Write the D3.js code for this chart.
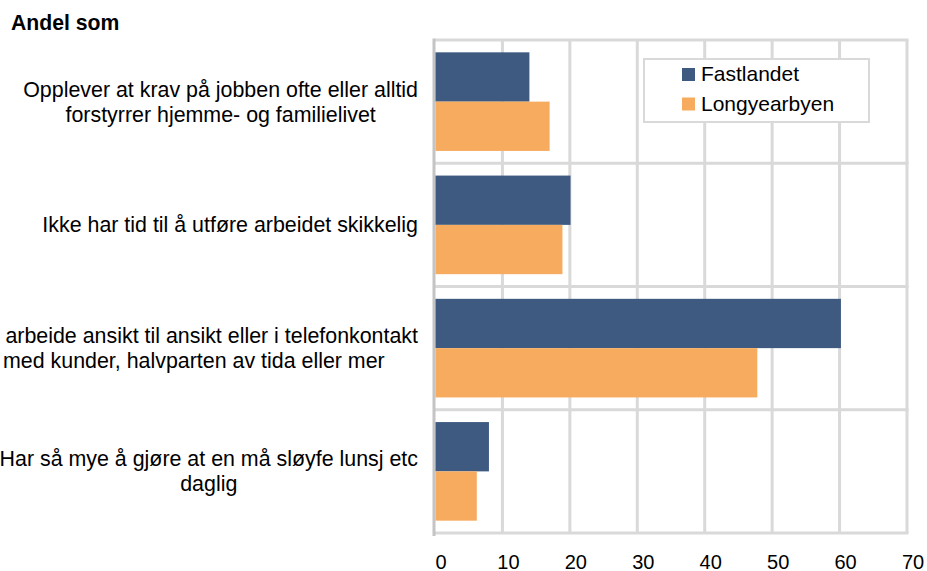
<!DOCTYPE html>
<html>
<head>
<meta charset="utf-8">
<script src="https://cdn.jsdelivr.net/npm/d3@7"></script>
<style>
  body { margin: 0; background: #fff; }
  svg { display: block; font-family: "Liberation Sans", Arial, sans-serif; }
</style>
</head>
<body>
<script>
// categories (label lines as they wrap in the chart)
const categories = [
  ["Opplever at krav på jobben ofte eller alltid", "forstyrrer hjemme- og familielivet"],
  ["Ikke har tid til å utføre arbeidet skikkelig"],
  ["Må arbeide ansikt til ansikt eller i telefonkontakt", "med kunder, halvparten av tida eller mer"],
  ["Har så mye å gjøre at en må sløyfe lunsj etc", "daglig"]
];
const series = ["Fastlandet", "Longyearbyen"];
const fastlandet = [14, 20.1, 60.2, 8];
const longyearbyen = [17, 18.9, 47.8, 6.2];
const xTicks = [0, 10, 20, 30, 40, 50, 60, 70];
const colors = ["#3e5a81", "#f7ab5e"];

const W = 927, H = 571;
const plot = { left: 435, right: 907, top: 40, bottom: 533 };

const svg = d3.select("body").append("svg")
    .attr("width", W)
    .attr("height", H);

const x = d3.scaleLinear()
    .domain([0, 70])
    .range([plot.left, plot.right]);

const y = d3.scaleBand()
    .domain(d3.range(categories.length))
    .range([plot.top, plot.bottom])
    .paddingInner(0.2)
    .paddingOuter(0.1);

const ySub = d3.scaleBand()
    .domain(series)
    .range([0, y.bandwidth()]);

// vertical gridlines
svg.append("g")
    .selectAll("line")
    .data(xTicks.slice(1))
    .join("line")
    .attr("x1", d => x(d)).attr("x2", d => x(d))
    .attr("y1", plot.top).attr("y2", plot.bottom)
    .attr("stroke", "#d9d9d9")
    .attr("stroke-width", 3);

// horizontal lines between categories
const bounds = d3.range(categories.length + 1)
    .map(i => i < categories.length ? y(i) - y.step() * y.paddingInner() / 2 : plot.bottom);
svg.append("g")
    .selectAll("line")
    .data(bounds)
    .join("line")
    .attr("x1", plot.left).attr("x2", plot.right + 1.5)
    .attr("y1", d => d).attr("y2", d => d)
    .attr("stroke", "#d9d9d9")
    .attr("stroke-width", 3);

// category axis line
svg.append("line")
    .attr("x1", plot.left - 1).attr("x2", plot.left - 1)
    .attr("y1", plot.top - 1.5).attr("y2", plot.bottom + 3)
    .attr("stroke", "#c4c4c4")
    .attr("stroke-width", 3);

// bars
const rows = categories.map((c, i) => ({ i, vals: [fastlandet[i], longyearbyen[i]] }));
svg.append("g")
    .selectAll("g")
    .data(rows)
    .join("g")
    .attr("transform", d => `translate(0,${y(d.i)})`)
    .selectAll("rect")
    .data(d => d.vals.map((v, k) => ({ v, k })))
    .join("rect")
    .attr("x", x(0) + 0.5)
    .attr("y", d => ySub(series[d.k]))
    .attr("width", d => x(d.v) - x(0) - 0.5)
    .attr("height", ySub.bandwidth())
    .attr("fill", d => colors[d.k]);

// x tick labels
svg.append("g")
    .selectAll("text")
    .data(xTicks)
    .join("text")
    .attr("x", d => x(d) + 6)
    .attr("y", 569)
    .attr("text-anchor", "middle")
    .attr("font-size", 20)
    .attr("fill", "#000")
    .text(d => d);

// category labels, wrapped lines centred in a box right-aligned to the axis
const labelRight = 418, lineH = 25, fs = 21.4;
categories.forEach((lines, i) => {
  const cy = y(i) + y.bandwidth() / 2;
  const g = svg.append("text")
      .attr("font-size", fs)
      .attr("text-anchor", "middle")
      .attr("fill", "#000");
  const spans = lines.map((l, j) => g.append("tspan")
      .attr("y", cy + 7.5 + (j - (lines.length - 1) / 2) * lineH)
      .text(l));
  const maxW = d3.max(spans, s => s.node().getComputedTextLength());
  spans.forEach(s => s.attr("x", labelRight - maxW / 2));
});

// title
svg.append("text")
    .attr("x", 11)
    .attr("y", 30)
    .attr("font-size", 21.2)
    .attr("font-weight", "bold")
    .text("Andel som");

// legend
const legend = svg.append("g");
legend.append("rect")
    .attr("x", 644).attr("y", 59)
    .attr("width", 225).attr("height", 63)
    .attr("fill", "#fff")
    .attr("stroke", "#d9d9d9")
    .attr("stroke-width", 2);
series.forEach((s, k) => {
  legend.append("rect")
      .attr("x", 682).attr("y", 68 + k * 29.5)
      .attr("width", 13).attr("height", 13)
      .attr("fill", colors[k]);
  legend.append("text")
      .attr("x", 701).attr("y", 81 + k * 29.5)
      .attr("font-size", 21)
      .text(s);
});
</script>
</body>
</html>
